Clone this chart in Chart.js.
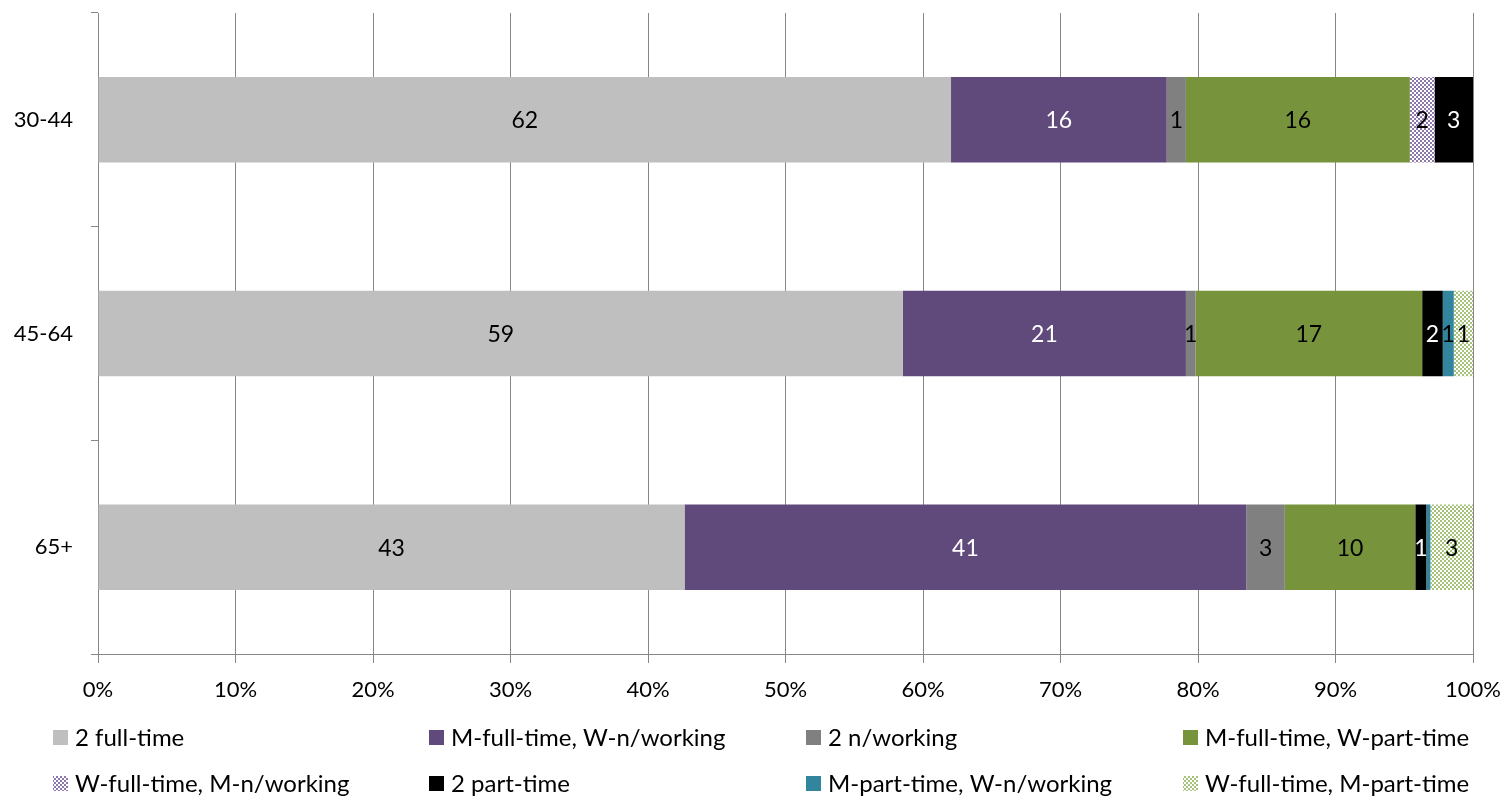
<!DOCTYPE html>
<html>
<head>
<meta charset="utf-8">
<script src="https://cdn.jsdelivr.net/npm/chart.js@4.4.1/dist/chart.umd.min.js"></script>
<style>
  body { margin: 0; background: #fff; }
  #wrap { width: 1505px; height: 796px; }
</style>
</head>
<body>
<div id="wrap"><canvas id="chart" width="1505" height="796"></canvas></div>
<script>
const categories = ["30-44", "45-64", "65+"];

const seriesNames = [
  "2 full-time",
  "M-full-time, W-n/working",
  "2 n/working",
  "M-full-time, W-part-time",
  "W-full-time, M-n/working",
  "2 part-time",
  "M-part-time, W-n/working",
  "W-full-time, M-part-time"
];

// one array per series, values per age group (30-44, 45-64, 65+)
const twoFullTime     = [62.1, 58.6, 42.7];
const mFullWNot       = [15.7, 20.6, 40.9];
const twoNotWorking   = [1.4, 0.7, 2.8];
const mFullWPart      = [16.3, 16.5, 9.5];
const wFullMNot       = [1.8, 0, 0];
const twoPartTime     = [2.8, 1.5, 0.8];
const mPartWNot       = [0, 0.8, 0.3];
const wFullMPart      = [0, 1.4, 3.1];

const xTicks = [0, 10, 20, 30, 40, 50, 60, 70, 80, 90, 100];

const seriesValues = [twoFullTime, mFullWNot, twoNotWorking, mFullWPart,
                      wFullMNot, twoPartTime, mPartWNot, wFullMPart];

function checker(color) {
  const c = document.createElement('canvas');
  c.width = 4; c.height = 4;
  const g = c.getContext('2d');
  g.fillStyle = '#ffffff';
  g.fillRect(0, 0, 4, 4);
  g.fillStyle = color;
  g.fillRect(0, 0, 2, 2);
  g.fillRect(2, 2, 2, 2);
  return g.createPattern(c, 'repeat');
}

const ctx = document.getElementById('chart').getContext('2d');

const fills = ['#bfbfbf', '#604a7b', '#808080', '#77933c',
               checker('#8e78ab'), '#000000', '#31859c', checker('#a5c17a')];
const labelColors = ['#000', '#fff', '#000', '#000', '#000', '#fff', '#000', '#000'];

// 100% stacked: normalise each category total to 100
const totals = categories.map((c, i) => seriesValues.reduce((s, arr) => s + arr[i], 0));

const datasets = seriesNames.map((name, k) => ({
  label: name,
  data: seriesValues[k].map((v, i) => v / totals[i] * 100),
  raw: seriesValues[k],
  backgroundColor: fills[k],
  borderWidth: 0,
  categoryPercentage: 1,
  barPercentage: 0.4
}));

const FONT = 'Lato, "Open Sans", sans-serif';

const valueLabels = {
  id: 'valueLabels',
  afterDatasetsDraw(chart) {
    const g = chart.ctx;
    g.save();
    g.font = '23px ' + FONT;
    g.textAlign = 'center';
    g.textBaseline = 'middle';
    chart.data.datasets.forEach((ds, k) => {
      chart.getDatasetMeta(k).data.forEach((bar, i) => {
        const n = Math.round(ds.raw[i]);
        if (!n) return;
        g.fillStyle = labelColors[k];
        g.fillText(String(n), (bar.x + bar.base) / 2, bar.y + 1);
      });
    });
    g.restore();
  }
};

const gridLegend = {
  id: 'gridLegend',
  afterDraw(chart) {
    const g = chart.ctx;
    const colX = [53, 429, 806, 1183];
    const rowY = [737, 783];
    g.save();
    g.font = '24px ' + FONT;
    g.textBaseline = 'middle';
    g.textAlign = 'left';
    chart.data.datasets.forEach((ds, k) => {
      const x = colX[k % 4], y = rowY[Math.floor(k / 4)];
      g.fillStyle = ds.backgroundColor;
      g.fillRect(x, y - 7, 15, 15);
      g.fillStyle = '#000';
      g.fillText(ds.label, x + 22, y + 1);
    });
    g.restore();
  }
};

new Chart(ctx, {
  type: 'bar',
  data: { labels: categories, datasets: datasets },
  options: {
    indexAxis: 'y',
    responsive: false,
    animation: false,
    layout: { padding: { top: 13, right: 32, bottom: 82, left: 0 } },
    plugins: {
      legend: { display: false },
      tooltip: { enabled: false }
    },
    scales: {
      x: {
        stacked: true,
        min: 0,
        max: 100,
        afterBuildTicks(scale) { scale.ticks = xTicks.map(v => ({ value: v })); },
        afterFit(scale) { scale.height = 60; scale.paddingLeft = 0; scale.paddingRight = 0; },
        grid: { color: '#868686', lineWidth: 1, tickLength: 9 },
        border: { color: '#868686' },
        ticks: {
          color: '#000',
          font: { family: FONT, size: 22 },
          padding: 14,
          maxRotation: 0,
          callback: v => v + '%'
        }
      },
      y: {
        stacked: true,
        afterFit(scale) { scale.width = 98; scale.paddingTop = 0; scale.paddingBottom = 0; },
        grid: { offset: true, drawOnChartArea: false, color: '#868686', tickLength: 7 },
        border: { color: '#868686' },
        ticks: {
          color: '#000',
          font: { family: FONT, size: 22 },
          padding: 18
        }
      }
    }
  },
  plugins: [valueLabels, gridLegend]
});
</script>
</body>
</html>
